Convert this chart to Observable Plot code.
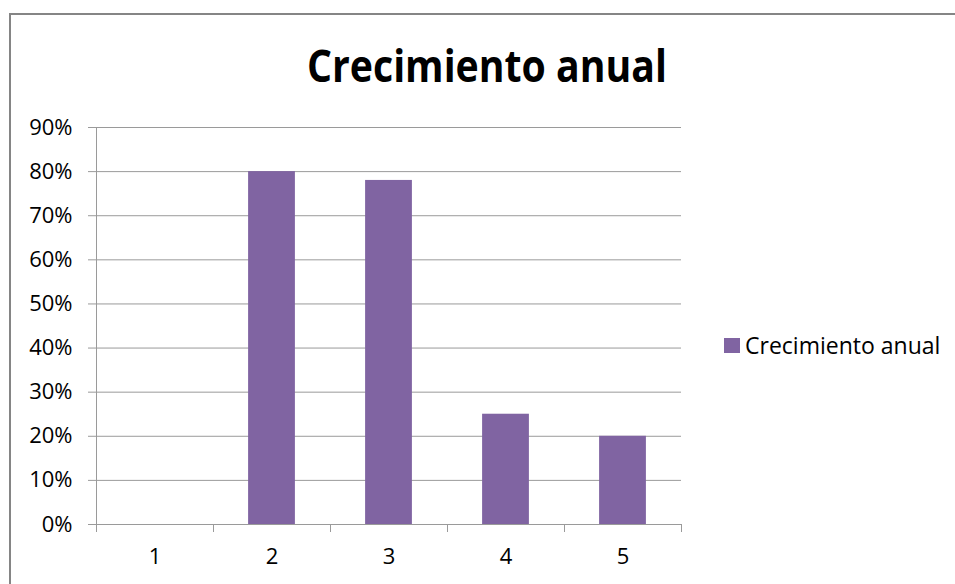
<!DOCTYPE html>
<html>
<head>
<meta charset="utf-8">
<script src="https://cdn.jsdelivr.net/npm/d3@7"></script>
<script src="https://cdn.jsdelivr.net/npm/@observablehq/plot@0.6"></script>
<style>
  html, body { margin: 0; padding: 0; background: #fff; }
  #wrap { position: relative; width: 955px; height: 584px; overflow: hidden; font-family: "Open Sans", sans-serif; }
  #frame { position: absolute; left: 9px; top: 13px; width: 2000px; height: 2000px; border: 2px solid #858585; box-sizing: border-box; }
  #chart { position: absolute; left: 0; top: 0; }
  #title { position: absolute; left: 487px; top: 43px; font-weight: 700; font-size: 44px; line-height: 1; white-space: nowrap; color: #000; transform-origin: 0 0; }
  #legend { position: absolute; left: 724px; top: 329px; display: flex; align-items: center; font-size: 23px; color: #000; white-space: nowrap; }
  #legend .sw { width: 16px; height: 15px; margin-right: 5px; }
</style>
</head>
<body>
<div id="wrap">
  <div id="frame"></div>
  <div id="chart"></div>
  <div id="title"></div>
  <div id="legend"><span class="sw"></span><span class="lab"></span></div>
</div>
<script>
// Annual growth by period
const titleText = "Crecimiento anual";
const seriesName = "Crecimiento anual";
const categories = [1, 2, 3, 4, 5];
const values = [0, 0.80, 0.78, 0.25, 0.20];
const yTicks = [0, 0.1, 0.2, 0.3, 0.4, 0.5, 0.6, 0.7, 0.8, 0.9];
const barColor = "#8064A2";

const data = categories.map((c, i) => ({cat: c, value: values[i]}));
// category boundaries for the x-axis tick marks
const boundaries = [...categories.map(c => c - 0.5), categories[categories.length - 1] + 0.5];
const gridColor = "#9a9a9a";

const chart = Plot.plot({
  width: 955,
  height: 584,
  marginLeft: 96,
  marginRight: 274,
  marginTop: 127,
  marginBottom: 60,
  x: {domain: [boundaries[0], boundaries[boundaries.length - 1]]},
  y: {domain: [0, 0.9]},
  style: {fontFamily: "Open Sans, sans-serif", fontSize: "22px", color: "#000", background: "transparent"},
  marks: [
    Plot.gridY(yTicks, {stroke: gridColor, strokeOpacity: 1}),
    Plot.rectY(data, {x1: d => d.cat - 0.2, x2: d => d.cat + 0.2, y: "value", fill: barColor}),
    Plot.axisY(yTicks, {tickSize: 8, tickPadding: 16, tickFormat: d3.format(".0%"), stroke: gridColor, label: null}),
    Plot.axisX(boundaries, {tickSize: 8, tickFormat: () => "", stroke: gridColor, label: null}),
    Plot.axisX(categories, {tickSize: 0, tickPadding: 24, tickFormat: d3.format("d"), label: null}),
    Plot.ruleX([boundaries[0]], {stroke: gridColor}),
    Plot.ruleY([0], {stroke: gridColor})
  ]
});
document.getElementById("chart").appendChild(chart);

// title, condensed to its target width
const title = document.getElementById("title");
title.textContent = titleText;
const w = title.getBoundingClientRect().width;
const targetW = 360;
title.style.transform = `translateX(${-targetW / 2}px) scaleX(${targetW / w})`;

const legend = document.getElementById("legend");
legend.querySelector(".sw").style.background = barColor;
legend.querySelector(".lab").textContent = seriesName;
</script>
</body>
</html>
